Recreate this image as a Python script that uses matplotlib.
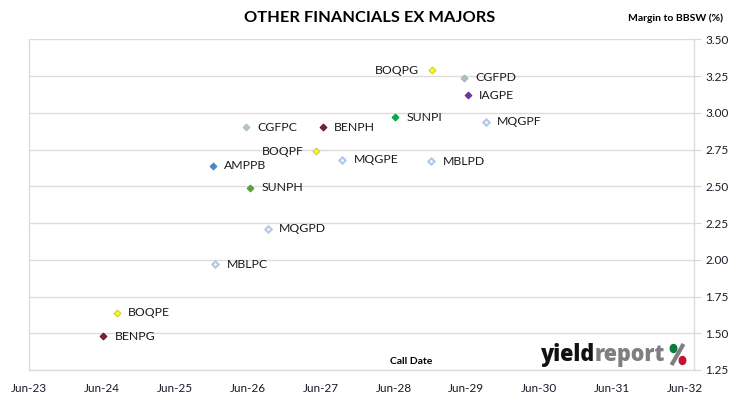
import matplotlib
matplotlib.use("Agg")
import matplotlib.pyplot as plt
from matplotlib.patches import Ellipse
import datetime as dt

plt.rcParams['font.family'] = ['Lato', 'DejaVu Sans']

# ---- data ----
names = ["BOQPG", "CGFPD", "IAGPE", "SUNPI", "MQGPF", "MBLPD", "CGFPC", "BENPH",
         "BOQPF", "MQGPE", "AMPPB", "SUNPH", "MQGPD", "MBLPC", "BOQPE", "BENPG"]
call_dates = ["2028-12-10", "2029-05-22", "2029-06-08", "2028-06-09", "2029-09-06",
              "2028-12-07", "2026-05-23", "2027-06-13", "2027-05-10", "2027-09-18",
              "2025-12-09", "2026-06-13", "2026-09-08", "2025-12-20", "2024-08-15",
              "2024-06-06"]
margins = [3.29, 3.24, 3.12, 2.97, 2.94, 2.67, 2.90, 2.90,
           2.74, 2.68, 2.64, 2.49, 2.21, 1.97, 1.64, 1.48]
tick_labels = ["Jun-23", "Jun-24", "Jun-25", "Jun-26", "Jun-27",
               "Jun-28", "Jun-29", "Jun-30", "Jun-31", "Jun-32"]
y_ticks = [1.25, 1.50, 1.75, 2.00, 2.25, 2.50, 2.75, 3.00, 3.25, 3.50]
label_left = {"BOQPG", "BOQPF"}

face = {"BOQ": "#FFFF00", "CGF": "#A9C4B8", "IAG": "#7030A0", "SUN": "#00B050",
        "MQG": "#FFFFFF", "MBL": "#FFFFFF", "BEN": "#7B2430", "AMP": "#4A86C8"}
edge = {"BOQ": "#C8C060", "CGF": "#A0B0C8", "IAG": "#7030A0", "SUN": "#00A040",
        "MQG": "#B4C7E7", "MBL": "#B4C7E7", "BEN": "#5A1A20", "AMP": "#4A86C8"}
face_over = {"SUNPH": "#5A9E3A", "CGFPC": "#B8CC98"}
edge_over = {"SUNPH": "#5A9E3A", "CGFPC": "#A8C0D0"}

fig = plt.figure(figsize=(7.30, 3.99), dpi=100)
ax = fig.add_axes([29.3/730, 1-370/399, (694-29.3)/730, (370-39.3)/399])

dates = [dt.datetime.strptime(d, "%Y-%m-%d") for d in call_dates]
for n, d, m in zip(names, dates, margins):
    k = n[:3]
    fc = face_over.get(n, face[k])
    ec = edge_over.get(n, edge[k])
    hollow = k in ("MQG", "MBL")
    ax.plot([d], [m], marker="D", ms=3.2 if hollow else 3.5, mfc=fc, mec=ec,
            mew=1.5 if hollow else 0.7, ls="none", zorder=3)
    if n in label_left:
        ax.annotate(n, (d, m), xytext=(-9, 0), textcoords="offset points",
                    ha="right", va="center", fontsize=8.8, color="#1a1a1a")
    else:
        ax.annotate(n, (d, m), xytext=(8, 0), textcoords="offset points",
                    ha="left", va="center", fontsize=8.8, color="#1a1a1a")

origin = dt.datetime(2023, 6, 1)
ticks = [origin + dt.timedelta(days=365.25 * i) for i in range(len(tick_labels))]
ax.set_xlim(origin, origin + dt.timedelta(days=365.25 * 9.125))
ax.set_xticks(ticks)
ax.set_xticklabels(tick_labels)
ax.set_ylim(1.25, 3.50)
ax.set_yticks(y_ticks)
ax.set_yticklabels([f"{v:.2f}" for v in y_ticks])
ax.yaxis.tick_right()
ax.tick_params(axis="y", length=5, color="#D9D9D9", labelsize=8.5, labelcolor="#1a1a2a", pad=3)
ax.tick_params(axis="x", length=0, labelsize=8.5, labelcolor="#1a1a2a", pad=9)
ax.grid(axis="y", color="#DCDCDC", lw=1)
ax.set_axisbelow(True)
for s in ["left", "right", "bottom"]:
    ax.spines[s].set_color("#DCDCDC")
    ax.spines[s].set_linewidth(1)
ax.spines["top"].set_visible(False)

fig.text(370/730, 1-18/399, "OTHER FINANCIALS EX MAJORS", ha="center", va="center",
         fontsize=11.8, fontweight="bold", color="#000000")
fig.text(676/730, 1-18/399, "Margin to BBSW (%)", ha="center", va="center",
         fontsize=7.5, fontweight="bold", color="#000000")
fig.text(411/730, 1-362/399, "Call Date", ha="center", va="center",
         fontsize=7.5, fontweight="bold", color="#000000")

# logo
fig.canvas.draw()
r = fig.canvas.get_renderer()
t1 = fig.text(541/730, 1-355/399, "yield", ha="left", va="center", fontsize=15.5,
              fontweight="heavy", color="#111111", family=["Open Sans", "DejaVu Sans"])
ext = t1.get_window_extent(r)
t2 = fig.text(ext.x1/730, 1-355/399, "report", ha="left", va="center", fontsize=15.5,
              fontweight="heavy", color="#7F7F7F", family=["Open Sans", "DejaVu Sans"])
ext2 = t2.get_window_extent(r)
px0 = ext2.x1 + 5
lax = fig.add_axes([0, 0, 1, 1], facecolor="none")
lax.set_xlim(0, 730); lax.set_ylim(0, 399); lax.axis("off")
lax.plot([px0 + 1, px0 + 13], [399-365, 399-344], color="#7F7F7F", lw=3.0, solid_capstyle="butt")
lax.add_patch(Ellipse((px0 + 3, 399-348.5), 6.5, 8, color="#0E7A3A"))
lax.add_patch(Ellipse((px0 + 12, 399-360.5), 6.5, 8, color="#C8102E"))

fig.savefig("out.png", dpi=100)
